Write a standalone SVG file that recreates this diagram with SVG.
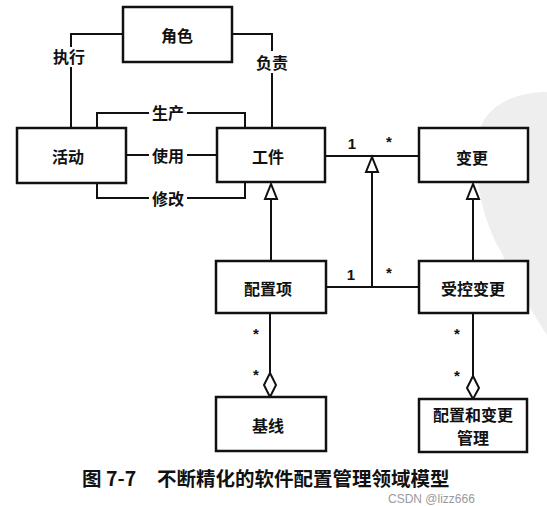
<svg xmlns="http://www.w3.org/2000/svg" width="547" height="506" viewBox="0 0 547 506">
<style>
.box{fill:#fff;stroke:#111;stroke-width:2.5}
.ln{fill:none;stroke:#111;stroke-width:2}
.t{font-family:"Noto Sans CJK SC","Liberation Sans",sans-serif;font-size:16px;font-weight:bold;fill:#111;text-anchor:middle;dominant-baseline:central}
.m{font-family:"Liberation Sans",sans-serif;font-size:15px;font-weight:bold;fill:#111;text-anchor:middle;dominant-baseline:central}
.cap{font-family:"Noto Sans CJK SC","Liberation Sans",sans-serif;font-size:19.5px;font-weight:bold;fill:#111}
</style>
<rect width="547" height="506" fill="#fff"/>
<path d="M547,92 C515,92 485,105 478,135 C472,165 480,215 500,250 C515,280 530,310 547,335 Z" fill="#eeeeee"/>
<g id="connectors">
<path class="ln" d="M123,34 H71 V47 M71,67 V128"/>
<path class="ln" d="M232,34 H272 V51 M272,73 V128"/>
<path class="ln" d="M97,128 V113 H149 M187,113 H245 V128"/>
<path class="ln" d="M126,155 H149 M187,155 H217"/>
<path class="ln" d="M97,183 V198 H149 M187,198 H245 V183"/>
<path class="ln" d="M325,156 H419"/>
<path class="ln" d="M372,172 V287"/>
<path d="M372,157 L366,172 L378,172 Z" fill="#fff" stroke="#111" stroke-width="2"/>
<path class="ln" d="M326,287 H419"/>
<path class="ln" d="M271,261 V199"/>
<path d="M271,184 L265,199 L277,199 Z" fill="#fff" stroke="#111" stroke-width="2"/>
<path class="ln" d="M473,261 V199"/>
<path d="M473,184 L467,199 L479,199 Z" fill="#fff" stroke="#111" stroke-width="2"/>
<path class="ln" d="M270,313 V373"/>
<path d="M270,373 L276,385 L270,397 L264,385 Z" fill="#fff" stroke="#111" stroke-width="2"/>
<path class="ln" d="M473,313 V376"/>
<path d="M473,376 L479,388 L473,399 L467,388 Z" fill="#fff" stroke="#111" stroke-width="2"/>
<text class="t" x="69" y="56">执行</text>
<text class="t" x="272" y="62">负责</text>
<text class="t" x="168" y="112">生产</text>
<text class="t" x="168" y="155">使用</text>
<text class="t" x="168" y="198">修改</text>
<text class="m" x="352" y="143">1</text>
<text class="m" x="389" y="141">*</text>
<text class="m" x="351" y="274">1</text>
<text class="m" x="389" y="272">*</text>
<text class="m" x="256" y="333">*</text>
<text class="m" x="256" y="374">*</text>
<text class="m" x="457" y="333">*</text>
<text class="m" x="457" y="375">*</text>
</g>
<g id="role"><rect class="box" x="123" y="7" width="109" height="55"/><text class="t" x="177" y="35">角色</text></g>
<g id="activity"><rect class="box" x="17" y="128" width="109" height="55"/><text class="t" x="68" y="156">活动</text></g>
<g id="artifact"><rect class="box" x="217" y="128" width="108" height="54"/><text class="t" x="268" y="156">工件</text></g>
<g id="change"><rect class="box" x="419" y="128" width="109" height="54"/><text class="t" x="472" y="157">变更</text></g>
<g id="configitem"><rect class="box" x="216" y="261" width="110" height="52"/><text class="t" x="268" y="288">配置项</text></g>
<g id="ctrlchange"><rect class="box" x="419" y="261" width="109" height="52"/><text class="t" x="473" y="288">受控变更</text></g>
<g id="baseline"><rect class="box" x="216" y="397" width="110" height="54"/><text class="t" x="268" y="425">基线</text></g>
<g id="ccm"><rect class="box" x="419" y="399" width="108" height="53"/><text class="t" x="473" y="414">配置和变更</text><text class="t" x="473" y="437">管理</text></g>
<text class="cap" x="82" y="486">图 7-7</text>
<text class="cap" x="157" y="486">不断精化的软件配置管理领域模型</text>
<text x="388" y="503" font-family="Liberation Sans,sans-serif" font-size="12" fill="#9a9a9a">CSDN @lizz666</text>
</svg>
